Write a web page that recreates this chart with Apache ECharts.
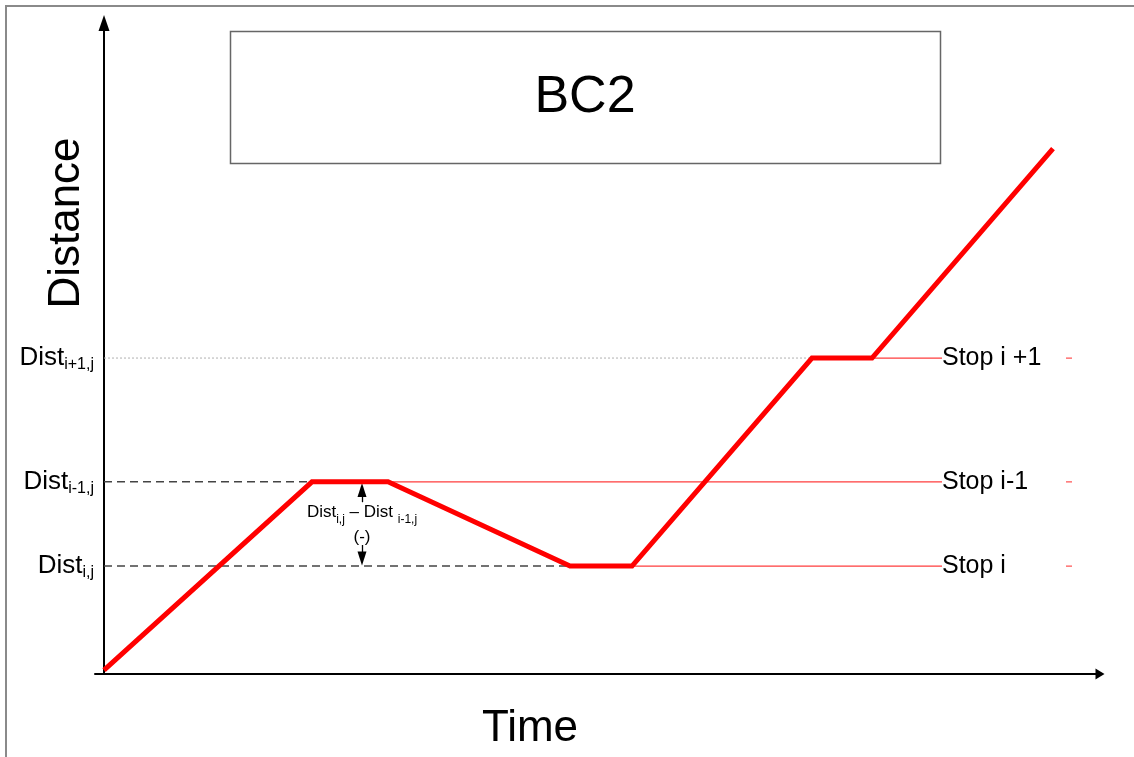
<!DOCTYPE html>
<html>
<head>
<meta charset="utf-8">
<title>BC2</title>
<script src="https://cdn.jsdelivr.net/npm/echarts@6/dist/echarts.min.js"></script>
<style>
  html, body { margin: 0; padding: 0; background: #fff; }
  #chart { width: 1134px; height: 757px; }
</style>
</head>
<body>
<div id="chart"></div>
<script>
// Vehicle trajectory (time, distance) in arbitrary units
const pathTime = [0, 20.8, 28.4, 46.6, 52.8, 70.8, 76.8, 94.9];
const pathDist = [0.6, 29.2, 29.2, 16.4, 16.4, 48.0, 48.0, 79.8];

// Stops: distance level, axis-label subscript, arrival / departure time
const stopNames = ['Stop i', 'Stop i-1', 'Stop i +1'];
const stopDist = [16.4, 29.2, 48.0];
const stopSubs = ['i,j', 'i-1,j', 'i+1,j'];
const stopArrive = [46.6, 20.8, 70.8];
const stopDepart = [52.8, 28.4, 76.8];
const stopLabelTime = 83.8;
const stopTickTime = [96.2, 96.8];

// Difference annotation between Dist(i,j) and Dist(i-1,j)
const diffTime = 25.8;
const diffUpper = [26.1, 27.96];
const diffLower = [19.6, 17.55];
const diffTextDist = 22.6;

const FONT = 'Liberation Sans, Arial, sans-serif';
const chart = echarts.init(document.getElementById('chart'), null, { renderer: 'canvas' });

const series = [];

// guide lines from the distance axis to each stop
stopDist.forEach((d, i) => {
  const dotted = i === 2;
  series.push({
    type: 'line',
    symbol: 'none',
    silent: true,
    data: [[0, d], [stopArrive[i], d]],
    lineStyle: dotted
      ? { color: '#b0b0b0', width: 1, type: [2, 2] }
      : { color: '#444', width: 1.4, type: [8, 5] },
    z: 2
  });
  // thin red stop line after departure
  series.push({
    type: 'line',
    symbol: 'none',
    silent: true,
    data: [[stopDepart[i], d], [stopLabelTime, d]],
    lineStyle: { color: '#ff3d3d', width: 1.2 },
    z: 2
  });
  // small red tick at the far right
  series.push({
    type: 'line',
    symbol: 'none',
    silent: true,
    data: [[stopTickTime[0], d], [stopTickTime[1], d]],
    lineStyle: { color: '#ff5555', width: 1.2 },
    z: 2
  });
});

// stop names
series.push({
  type: 'scatter',
  symbolSize: 0,
  itemStyle: { color: '#000', opacity: 1 },
  silent: true,
  data: stopDist.map((d, i) => [stopLabelTime, d, stopNames[i]]),
  label: {
    show: true,
    position: 'right',
    distance: 0,
    formatter: p => p.value[2],
    fontFamily: FONT,
    fontSize: 25,
    color: '#000',
    opacity: 1,
    textBorderWidth: 0
  },
  z: 4
});

// trajectory
series.push({
  type: 'line',
  symbol: 'none',
  silent: true,
  data: pathTime.map((t, i) => [t, pathDist[i]]),
  lineStyle: { color: '#ff0000', width: 5, join: 'miter' },
  z: 5,
  markLine: {
    silent: true,
    symbol: ['none', 'triangle'],
    symbolSize: [9, 14],
    label: { show: false },
    lineStyle: { color: '#000', width: 1.3, type: 'solid' },
    itemStyle: { color: '#000' },
    data: [
      [{ coord: [diffTime, diffUpper[0]] }, { coord: [diffTime, diffUpper[1]] }],
      [{ coord: [diffTime, diffLower[0]] }, { coord: [diffTime, diffLower[1]] }]
    ]
  }
});

// annotation text
series.push({
  type: 'scatter',
  symbolSize: 0,
  itemStyle: { color: '#000', opacity: 1 },
  silent: true,
  data: [[diffTime, diffTextDist]],
  label: {
    show: true,
    position: 'inside',
    formatter: '{m|Dist}{s|i,j}{m| – Dist }{s|i-1,j}\n{c|(-)}',
    align: 'center',
    color: '#000',
    opacity: 1,
    textBorderWidth: 0,
    rich: {
      m: { fontFamily: FONT, fontSize: 17, color: '#000', lineHeight: 25 },
      s: { fontFamily: FONT, fontSize: 12, color: '#000', lineHeight: 14, verticalAlign: 'bottom' },
      c: { fontFamily: FONT, fontSize: 17, color: '#000', lineHeight: 25, align: 'center' }
    }
  },
  z: 6
});

const option = {
  animation: false,
  backgroundColor: '#fff',
  grid: { left: 95, right: 34, top: 23, bottom: 83, containLabel: false },
  xAxis: {
    type: 'value',
    min: -0.9,
    max: 99.6,
    splitLine: { show: false },
    axisTick: { show: false },
    axisLabel: { show: false },
    axisLine: {
      show: true,
      symbol: ['none', 'triangle'],
      symbolSize: [11, 9],
      lineStyle: { color: '#000', width: 2 }
    }
  },
  yAxis: {
    type: 'value',
    min: 0,
    max: 98.9,
    splitLine: { show: false },
    axisTick: { show: false },
    axisLine: {
      show: true,
      onZero: true,
      symbol: ['none', 'triangle'],
      symbolSize: [11, 16],
      lineStyle: { color: '#000', width: 2 }
    },
    axisLabel: {
      show: true,
      customValues: stopDist,
      margin: 1,
      formatter: v => {
        const i = stopDist.indexOf(v);
        return i < 0 ? '' : '{m|Dist}{s|' + stopSubs[i] + '}';
      },
      rich: {
        m: { fontFamily: FONT, fontSize: 26, color: '#000', lineHeight: 30 },
        s: { fontFamily: FONT, fontSize: 16, color: '#000', lineHeight: 16, verticalAlign: 'bottom' }
      }
    }
  },
  graphic: [
    {
      type: 'polyline',
      silent: true,
      shape: { points: [[6, 757], [6, 6], [1134, 6]] },
      style: { stroke: '#8a8a8a', lineWidth: 2, fill: null }
    },
    {
      type: 'rect',
      silent: true,
      shape: { x: 230.5, y: 31.5, width: 710, height: 132 },
      style: { stroke: '#666', lineWidth: 1.5, fill: '#fff' }
    },
    {
      type: 'text',
      silent: true,
      x: 585, y: 98,
      style: { text: 'BC2', font: '52px ' + FONT, fill: '#000', align: 'center', verticalAlign: 'middle' }
    },
    {
      type: 'text',
      silent: true,
      x: 67, y: 223,
      rotation: Math.PI / 2,
      style: { text: 'Distance', font: '44px ' + FONT, fill: '#000', align: 'center', verticalAlign: 'middle' }
    },
    {
      type: 'text',
      silent: true,
      x: 530, y: 729,
      style: { text: 'Time', font: '44px ' + FONT, fill: '#000', align: 'center', verticalAlign: 'middle' }
    }
  ],
  series: series
};

chart.setOption(option);
</script>
</body>
</html>
